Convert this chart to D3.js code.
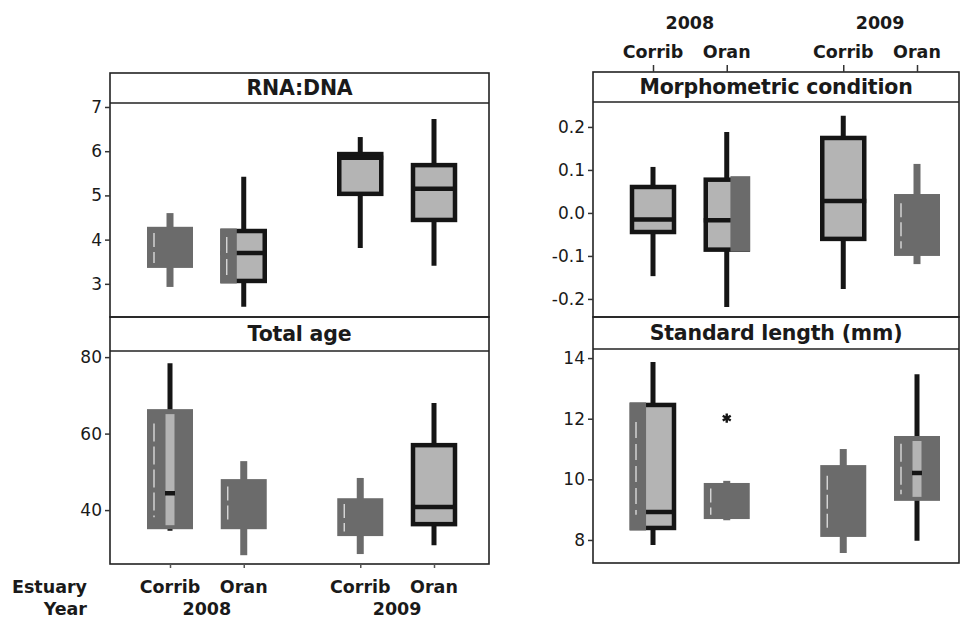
<!DOCTYPE html>
<html>
<head>
<meta charset="utf-8">
<script src="https://cdn.jsdelivr.net/npm/d3@7"></script>
<style>
  html, body { margin: 0; padding: 0; background: #ffffff; }
  svg { display: block; }
  text { font-family: "DejaVu Sans", Verdana, sans-serif; fill: #1a1a1a; }
</style>
</head>
<body>
<svg id="chart" width="962" height="621"></svg>
<script>
// Groups: estuary within year
const estuaries = ["Corrib", "Oran", "Corrib", "Oran"];
const years = ["2008", "2009"];
const groupSlots = [0, 1, 2.58, 3.58];

// Five-number summaries per group: [lower whisker, Q1, median, Q3, upper whisker]
const rnaDna = [
  [2.93, 3.36, 3.80, 4.29, 4.60],
  [2.48, 3.02, 3.70, 4.24, 5.42],
  [3.81, 4.99, 5.85, 5.98, 6.32],
  [3.41, 4.40, 5.15, 5.73, 6.73]
];
const totalAge = [
  [34.6, 35.0, 44.4, 66.4, 78.4],
  [28.2, 35.0, 42.0, 48.1, 52.8],
  [28.5, 33.2, 38.0, 43.1, 48.4],
  [30.8, 35.8, 40.8, 57.5, 68.0]
];
const morphCondition = [
  [-0.147, -0.049, -0.015, 0.065, 0.107],
  [-0.219, -0.090, -0.017, 0.082, 0.188],
  [-0.177, -0.065, 0.028, 0.179, 0.226],
  [-0.119, -0.100, -0.030, 0.044, 0.114]
];
const standardLength = [
  [7.83, 8.33, 8.92, 12.52, 13.87],
  [8.65, 8.69, 9.20, 9.88, 9.95],
  [7.57, 8.10, 9.30, 10.47, 11.00],
  [7.97, 9.29, 10.21, 11.43, 13.47]
];
const slOutliers = [[], [12.02], [], []];

// Tick values per panel
const rnaTicks = [3, 4, 5, 6, 7];
const ageTicks = [40, 60, 80];
const morphTicks = [-0.2, -0.1, 0.0, 0.1, 0.2];
const slTicks = [8, 10, 12, 14];

// Shading of each box (print look): outline, solid, or partly shaded
const rnaLook = ["solid", "left", "outline", "outline"];
const ageLook = ["strip", "solid", "solid", "outline"];
const morphLook = ["outline", "right", "outline", "solid"];
const slLook = ["left", "solid", "solid", "strip"];

const DARK = "#6b6b6b";
const LIGHT = "#b4b4b4";
const INK = "#151515";

const svg = d3.select("#chart");

const fmtMorph = d => (d < 0 ? "-" : "") + Math.abs(d).toFixed(1);

const panels = [
  { title: "RNA:DNA", data: rnaDna, look: rnaLook, ticks: rnaTicks, fmt: d3.format("d"),
    x0: 110, x1: 489, yTop: 73, yStrip: 103, yBot: 317, domain: [2.25, 7.09], out: null },
  { title: "Total age", data: totalAge, look: ageLook, ticks: ageTicks, fmt: d3.format("d"),
    x0: 110, x1: 489, yTop: 317, yStrip: 351, yBot: 564, domain: [25.9, 81.6], out: null },
  { title: "Morphometric condition", data: morphCondition, look: morphLook, ticks: morphTicks, fmt: fmtMorph,
    x0: 593, x1: 959, yTop: 72, yStrip: 102, yBot: 317, domain: [-0.242, 0.258], out: null },
  { title: "Standard length (mm)", data: standardLength, look: slLook, ticks: slTicks, fmt: d3.format("d"),
    x0: 593, x1: 959, yTop: 317, yStrip: 349, yBot: 563, domain: [7.24, 14.3], out: slOutliers }
];

const BOX_W = 46;

panels.forEach(p => {
  const g = svg.append("g");
  const x = d3.scaleLinear().domain([0, 3.58]).range([p.x0 + 60, p.x0 + 324]);
  const y = d3.scaleLinear().domain(p.domain).range([p.yBot, p.yStrip]);
  p.x = x;

  // panel frame and title strip
  g.append("rect").attr("x", p.x0).attr("y", p.yTop)
    .attr("width", p.x1 - p.x0).attr("height", p.yBot - p.yTop)
    .attr("fill", "none").attr("stroke", "#222").attr("stroke-width", 1.6);
  g.append("line").attr("x1", p.x0).attr("x2", p.x1)
    .attr("y1", p.yStrip).attr("y2", p.yStrip)
    .attr("stroke", "#222").attr("stroke-width", 1.6);
  g.append("text").attr("x", (p.x0 + p.x1) / 2).attr("y", (p.yTop + p.yStrip) / 2 + 7)
    .attr("text-anchor", "middle").attr("font-size", 20.5).attr("font-weight", "bold")
    .attr("letter-spacing", -0.2)
    .text(p.title);

  // y axis
  const axis = d3.axisLeft(y).tickValues(p.ticks).tickFormat(p.fmt).tickSize(5).tickPadding(3);
  const ag = g.append("g").attr("transform", `translate(${p.x0},0)`).call(axis);
  ag.select(".domain").remove();
  ag.selectAll(".tick line").attr("stroke", "#333").attr("stroke-width", 1.5);
  ag.selectAll(".tick text").attr("font-size", 17).attr("fill", "#1a1a1a")
    .style("font-family", '"DejaVu Sans", Verdana, sans-serif');

  // boxes
  p.data.forEach((s, i) => {
    const [lo, q1, med, q3, hi] = s;
    const look = p.look[i];
    const cx = x(groupSlots[i]);
    const bx = cx - BOX_W / 2;
    const yq3 = y(q3), yq1 = y(q1);
    const bg = g.append("g");

    if (look === "solid") {
      bg.append("line").attr("x1", cx).attr("x2", cx).attr("y1", y(lo)).attr("y2", y(hi))
        .attr("stroke", DARK).attr("stroke-width", 7);
      bg.append("rect").attr("x", bx).attr("y", yq3).attr("width", BOX_W).attr("height", yq1 - yq3)
        .attr("fill", DARK);
      // faint print streak inside the shaded box
      bg.append("line").attr("x1", bx + 7).attr("x2", bx + 7)
        .attr("y1", yq3 + (yq1 - yq3) * 0.15).attr("y2", yq1 - (yq1 - yq3) * 0.12)
        .attr("stroke", "#d9d9d9").attr("stroke-width", 1.4)
        .attr("stroke-dasharray", "14,5");
      return;
    }

    // black whiskers
    bg.append("line").attr("x1", cx).attr("x2", cx).attr("y1", y(lo)).attr("y2", y(hi))
      .attr("stroke", INK).attr("stroke-width", 5);

    if (look === "strip") {
      bg.append("rect").attr("x", bx).attr("y", yq3).attr("width", BOX_W).attr("height", yq1 - yq3)
        .attr("fill", DARK);
      bg.append("rect").attr("x", cx - 4.5).attr("y", yq3 + 5).attr("width", 9).attr("height", yq1 - yq3 - 9)
        .attr("fill", LIGHT);
      bg.append("line").attr("x1", cx - 5).attr("x2", cx + 5).attr("y1", y(med)).attr("y2", y(med))
        .attr("stroke", INK).attr("stroke-width", 4.5);
      bg.append("line").attr("x1", bx + 7).attr("x2", bx + 7)
        .attr("y1", yq3 + (yq1 - yq3) * 0.12).attr("y2", yq1 - (yq1 - yq3) * 0.1)
        .attr("stroke", "#d9d9d9").attr("stroke-width", 1.4)
        .attr("stroke-dasharray", "18,5");
      return;
    }

    // outlined box with median
    bg.append("rect").attr("x", bx + 2).attr("y", yq3 + 2).attr("width", BOX_W - 4).attr("height", yq1 - yq3 - 4)
      .attr("fill", LIGHT).attr("stroke", INK).attr("stroke-width", 4.5);
    bg.append("line").attr("x1", bx).attr("x2", bx + BOX_W).attr("y1", y(med)).attr("y2", y(med))
      .attr("stroke", INK).attr("stroke-width", 4.5);

    if (look === "left") {
      const w = BOX_W * 0.36;
      bg.append("rect").attr("x", bx - 0.5).attr("y", yq3 - 0.5).attr("width", w).attr("height", yq1 - yq3 + 1)
        .attr("fill", DARK);
      bg.append("line").attr("x1", bx + 6).attr("x2", bx + 6)
        .attr("y1", yq3 + (yq1 - yq3) * 0.15).attr("y2", yq1 - (yq1 - yq3) * 0.12)
        .attr("stroke", "#d9d9d9").attr("stroke-width", 1.4)
        .attr("stroke-dasharray", "16,6");
    } else if (look === "right") {
      const w = BOX_W * 0.42;
      bg.append("rect").attr("x", bx + BOX_W - w).attr("y", yq3 - 1.5).attr("width", w + 0.5).attr("height", yq1 - yq3 + 1.5)
        .attr("fill", DARK);
    }
  });

  // outliers
  if (p.out) {
    p.out.forEach((vals, i) => {
      vals.forEach(v => {
        g.append("path")
          .attr("d", d3.symbol().type(d3.symbolAsterisk || d3.symbolCross).size(60)())
          .attr("transform", `translate(${x(groupSlots[i])},${y(v)})`)
          .attr("fill", "none").attr("stroke", INK).attr("stroke-width", 2.4);
      });
    });
  }
});

// Bottom category axis under the left column
(function () {
  const p = panels[1];
  const ax = d3.axisBottom(p.x).tickValues(groupSlots).tickFormat(() => "").tickSize(4);
  const g = svg.append("g").attr("transform", `translate(0,${p.yBot})`).call(ax);
  g.select(".domain").remove();
  g.selectAll(".tick line").attr("stroke", "#555").attr("stroke-width", 1.5);

  const lab = svg.append("g").attr("font-weight", "bold").attr("font-size", 17.5);
  estuaries.forEach((e, i) => {
    lab.append("text").attr("x", p.x(groupSlots[i])).attr("y", 593)
      .attr("text-anchor", "middle").text(e);
  });
  years.forEach((yv, j) => {
    const mid = (p.x(groupSlots[2 * j]) + p.x(groupSlots[2 * j + 1])) / 2;
    lab.append("text").attr("x", mid).attr("y", 615).attr("text-anchor", "middle").text(yv);
  });
  lab.append("text").attr("x", 87).attr("y", 593).attr("text-anchor", "end").text("Estuary");
  lab.append("text").attr("x", 87).attr("y", 615).attr("text-anchor", "end").text("Year");
})();

// Top category axis above the right column
(function () {
  const p = panels[2];
  const ax = d3.axisTop(p.x).tickValues(groupSlots).tickFormat(() => "").tickSize(7);
  const g = svg.append("g").attr("transform", `translate(0,${p.yTop})`).call(ax);
  g.select(".domain").remove();
  g.selectAll(".tick line").attr("stroke", "#333").attr("stroke-width", 1.5);

  const lab = svg.append("g").attr("font-weight", "bold").attr("font-size", 17.5);
  estuaries.forEach((e, i) => {
    lab.append("text").attr("x", p.x(groupSlots[i])).attr("y", 58)
      .attr("text-anchor", "middle").text(e);
  });
  years.forEach((yv, j) => {
    const mid = (p.x(groupSlots[2 * j]) + p.x(groupSlots[2 * j + 1])) / 2;
    lab.append("text").attr("x", mid).attr("y", 29).attr("text-anchor", "middle").text(yv);
  });
})();
</script>
</body>
</html>
